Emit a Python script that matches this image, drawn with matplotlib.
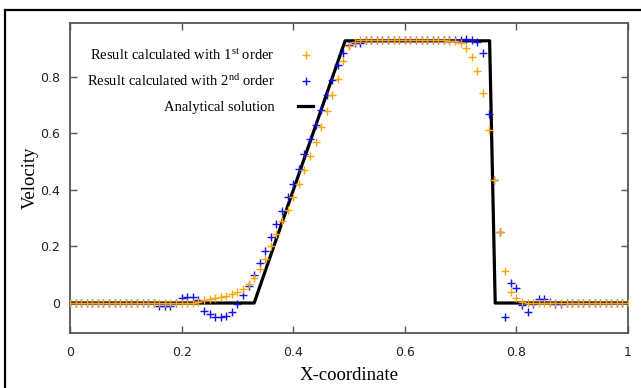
import numpy as np
import matplotlib
matplotlib.use("Agg")
import matplotlib.pyplot as plt
from matplotlib.patches import Rectangle

plt.rcParams['mathtext.fontset'] = 'custom'
plt.rcParams['mathtext.rm'] = 'Liberation Serif'
plt.rcParams['mathtext.it'] = 'Liberation Serif:italic'

# ---------------- data ----------------
x_grid = [round(0.01 * k, 2) for k in range(101)]

first_order = [
    0, 0, 0, 0, 0, 0, 0, 0, 0, 0,                 # 0.00-0.09
    0, 0, 0, 0, 0, 0, 0, 0, 0, 0,                 # 0.10-0.19
    0, 0, 0, 0.004, 0.01, 0.013, 0.017, 0.021, 0.026, 0.032,   # 0.20-0.29
    0.039, 0.05, 0.066, 0.09, 0.12, 0.155, 0.2, 0.244, 0.29, 0.33,  # 0.30-0.39
    0.374, 0.42, 0.47, 0.52, 0.569, 0.623, 0.678, 0.735, 0.791, 0.854,  # 0.40-0.49
    0.907, 0.922, 0.93, 0.93, 0.93, 0.93, 0.93, 0.93, 0.93, 0.93,  # 0.50-0.59
    0.93, 0.93, 0.93, 0.93, 0.93, 0.93, 0.93, 0.93, 0.928, 0.925,  # 0.60-0.69
    0.919, 0.901, 0.871, 0.821, 0.741, 0.611, 0.436, 0.25, 0.114, 0.04,  # 0.70-0.79
    0.017, 0.003, 0, 0, 0, 0, 0, 0, 0, 0,         # 0.80-0.89
    0, 0, 0, 0, 0, 0, 0, 0, 0, 0,                 # 0.90-0.99
    0,                                            # 1.00
]

second_order = [
    0, 0, 0, 0, 0, 0, 0, 0, 0, 0,                 # 0.00-0.09
    0, 0, 0, 0, 0, 0, -0.01, -0.01, -0.01, 0.0,   # 0.10-0.19
    0.017, 0.021, 0.022, 0.01, -0.028, -0.04, -0.049, -0.049, -0.046, -0.031,  # 0.20-0.29
    -0.005, 0.028, 0.06, 0.10, 0.14, 0.185, 0.232, 0.279, 0.327, 0.374,  # 0.30-0.39
    0.42, 0.475, 0.528, 0.581, 0.629, 0.682, 0.735, 0.789, 0.842, 0.883,  # 0.40-0.49
    0.913, 0.918, 0.92, 0.93, 0.93, 0.93, 0.93, 0.93, 0.93, 0.93,  # 0.50-0.59
    0.93, 0.93, 0.93, 0.93, 0.93, 0.93, 0.93, 0.93, 0.93, 0.93,  # 0.60-0.69
    0.931, 0.932, 0.929, 0.922, 0.884, 0.67, 0.436, 0.25, -0.049, 0.072,  # 0.70-0.79
    0.054, -0.007, -0.033, -0.005, 0.013, 0.013, 0.003, -0.004, -0.004, 0,  # 0.80-0.89
    0, 0, 0, 0, 0, 0, 0, 0, 0, 0,                 # 0.90-0.99
    0,                                            # 1.00
]

analytic_x = [0.0, 0.33, 0.493, 0.752, 0.762, 1.0]
analytic_y = [0.0, 0.0, 0.927, 0.927, 0.0, 0.0]

x_ticks = [0, 0.2, 0.4, 0.6, 0.8, 1]
x_tick_labels = ["0", "0.2", "0.4", "0.6", "0.8", "1"]
y_ticks = [0, 0.2, 0.4, 0.6, 0.8]
y_tick_labels = ["0", "0.2", "0.4", "0.6", "0.8"]

label_1st = r"Result calculated with 1$^{\mathrm{st}}$ order"
label_2nd = r"Result calculated with 2$^{\mathrm{nd}}$ order"
label_an = "Analytical solution"

# ---------------- figure ----------------
W, H = 641, 388
fig = plt.figure(figsize=(W / 100, H / 100), dpi=100)
ax = fig.add_axes([70 / W, 1 - 333 / H, (628 - 70) / W, (333 - 23) / H])

ORANGE = "#FFA500"
BLUE = "#1010F0"

ln_an, = ax.plot(analytic_x, analytic_y, color="black", lw=2.3, zorder=2)
ln_2, = ax.plot(x_grid, second_order, ls="none", marker="+", ms=6, mew=1.0,
                color=BLUE, zorder=3)
ln_1, = ax.plot(x_grid, first_order, ls="none", marker="+", ms=6, mew=1.0,
                color=ORANGE, zorder=4)

ax.set_xlim(0, 1)
ax.set_ylim(-0.106, 0.99)

ax.set_xticks(x_ticks)
ax.set_xticklabels(x_tick_labels)
ax.set_yticks(y_ticks)
ax.set_yticklabels(y_tick_labels)

spine_color = "#555555"
for s in ax.spines.values():
    s.set_color(spine_color)
    s.set_linewidth(1.3)
ax.tick_params(direction="in", length=5, width=1, color=spine_color,
               top=True, right=True, labelsize=9, labelcolor="#222222")
ax.tick_params(axis="x", pad=9)
ax.tick_params(axis="y", pad=7)
for lab in ax.get_xticklabels() + ax.get_yticklabels():
    lab.set_family("DejaVu Sans")

serif = "Liberation Serif"
ax.set_xlabel("X-coordinate", family=serif, fontsize=13.5, labelpad=6)
ax.set_ylabel("Velocity", family=serif, fontsize=13.5, labelpad=1)

leg = ax.legend([ln_1, ln_2, ln_an], [label_1st, label_2nd, label_an],
                loc="upper left", bbox_to_anchor=(0.02, 0.94),
                markerfirst=False, frameon=False,
                prop={"family": serif, "size": 10.5},
                handlelength=1.0, handletextpad=1.6, labelspacing=0.75,
                borderaxespad=0)

# outer frame (image border)
fig.add_artist(Rectangle((5 / W, -0.2), 2.0, (1 - 10 / H) + 0.2,
                         transform=fig.transFigure, fill=False,
                         edgecolor="black", lw=1.6))

fig.savefig("out.png", dpi=100)
